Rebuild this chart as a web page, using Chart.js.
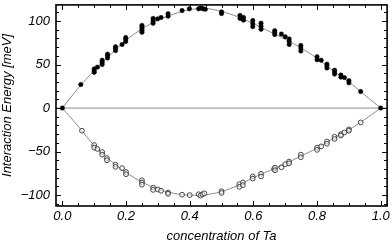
<!DOCTYPE html>
<html>
<head>
<meta charset="utf-8">
<script src="https://cdn.jsdelivr.net/npm/chart.js@4/dist/chart.umd.min.js"></script>
<style>
 html, body { margin: 0; padding: 0; background: #fff; }
 #wrap { width: 392px; height: 243px; }
</style>
</head>
<body>
<div id="wrap"><canvas id="c"></canvas></div>
<script>
// filled points (upper branch)
const upperX = [0, 0.058, 0.1, 0.1, 0.1, 0.11, 0.125, 0.125, 0.125, 0.142, 0.142, 0.142, 0.167, 0.167, 0.167, 0.1875, 0.199, 0.199, 0.199,
 0.25, 0.25, 0.25, 0.25, 0.25, 0.285, 0.285, 0.285, 0.299, 0.31, 0.332, 0.332, 0.376, 0.399, 0.428, 0.435, 0.442, 0.449,
 0.5, 0.5, 0.558, 0.558, 0.569, 0.569, 0.598, 0.598, 0.598, 0.624, 0.624, 0.624, 0.667, 0.667, 0.667, 0.688, 0.70,
 0.7125, 0.7125, 0.7125, 0.749, 0.749, 0.749, 0.8, 0.8, 0.813, 0.831, 0.831, 0.831, 0.855, 0.855, 0.855, 0.875, 0.875,
 0.886, 0.9, 0.9, 0.937, 1];
const upperY = [0, 27, 41, 43, 45, 47, 50, 52.5, 55, 57.5, 60, 62, 66, 68.5, 70.5, 73, 76.5, 79, 81,
 87, 89, 91, 93, 95, 97.5, 100, 103, 102.5, 104, 105.5, 108.5, 112, 114, 114, 115, 114, 113.5,
 108.5, 110.5, 103, 106.5, 101, 104, 93.5, 97, 100.5, 90.5, 94, 97.5, 84.5, 87, 89, 85, 82,
 73, 76.5, 79.5, 65.5, 69, 72, 55.5, 59, 55, 46, 48.5, 50.5, 39, 41.5, 43.5, 35.5, 38,
 35, 29, 31.5, 19, 0];

// open circles (lower branch)
const lowerX = [0.0615, 0.1, 0.1, 0.11, 0.125, 0.125, 0.14, 0.14, 0.167, 0.167, 0.1875, 0.2, 0.2, 0.25, 0.25, 0.25,
 0.285, 0.285, 0.3, 0.31, 0.332, 0.332, 0.376, 0.4, 0.428, 0.434, 0.44, 0.446, 0.5, 0.5, 0.556, 0.556, 0.567, 0.567,
 0.598, 0.598, 0.624, 0.624, 0.665, 0.668, 0.668, 0.688, 0.70, 0.712, 0.712, 0.749, 0.749, 0.8, 0.8, 0.813,
 0.831, 0.831, 0.855, 0.855, 0.875, 0.875, 0.886, 0.9, 0.9, 0.937];
const lowerY = [-26, -42.5, -45.5, -47, -50.5, -53.5, -57.5, -60, -65, -67.5, -69, -73.5, -76, -83, -85.5, -88,
 -91.5, -94, -93.5, -95, -97, -98.5, -99.5, -100, -99, -100.5, -99, -98, -95.5, -97.5, -87.5, -90.5, -85.5, -88.5,
 -78.5, -81, -75.5, -78.5, -70, -68.5, -71.5, -68, -64.5, -61.5, -63.5, -53.5, -56.5, -45.5, -48, -44,
 -38.5, -41, -33, -35.5, -30, -31.5, -28, -24.5, -26, -16.5];

// fitted curves
const fitX = [0, 0.05, 0.1, 0.15, 0.2, 0.25, 0.3, 0.35, 0.4, 0.45, 0.5, 0.55, 0.6, 0.65, 0.7, 0.75, 0.8, 0.85, 0.9, 0.95, 1];
const fitUpper = [0, 23, 43, 61, 78, 91, 101, 108, 113, 114.5, 111, 105, 97, 88, 79, 69, 57, 43, 30, 15, 0];
const fitLower = [0, -21, -43, -60, -74, -85, -93, -98, -100, -99.5, -96, -89, -80, -72, -64, -55, -46, -35, -25, -13, 0];

const xMin = -0.02, xMax = 1.02, yMin = -112.5, yMax = 118.5;
const zeroX = [xMin, xMax];
const zeroY = [0, 0];

const xTickLabels = ['0.0', '0.2', '0.4', '0.6', '0.8', '1.0'];
const yTickLabels = ['\u2212100', '\u221250', '0', '50', '100'];

const pts = (xs, ys) => xs.map((x, i) => ({ x: x, y: ys[i] }));

const font = { family: "'Liberation Sans', Arial, sans-serif", size: 13, style: 'italic' };

// frame plus inward ticks on all four sides
const framePlugin = {
 id: 'frame',
 afterDatasetsDraw(chart) {
  const { ctx, chartArea: a, scales } = chart;
  ctx.save();
  ctx.strokeStyle = '#000';
  ctx.lineWidth = 1;
  ctx.beginPath();
  scales.x.ticks.forEach(t => {
   const px = Math.round(scales.x.getPixelForValue(t.value)) + 0.5;
   const major = Math.abs(t.value / 0.2 - Math.round(t.value / 0.2)) < 1e-6;
   const len = major ? 5 : 3;
   ctx.moveTo(px, a.bottom); ctx.lineTo(px, a.bottom - len);
   ctx.moveTo(px, a.top); ctx.lineTo(px, a.top + len);
  });
  scales.y.ticks.forEach(t => {
   const py = Math.round(scales.y.getPixelForValue(t.value)) + 0.5;
   const major = t.value % 50 === 0;
   const len = major ? 5 : 3;
   ctx.moveTo(a.left, py); ctx.lineTo(a.left + len, py);
   ctx.moveTo(a.right, py); ctx.lineTo(a.right - len, py);
  });
  ctx.stroke();
  ctx.lineWidth = 1.6;
  ctx.strokeRect(a.left, a.top, a.right - a.left, a.bottom - a.top);
  ctx.restore();
 }
};

new Chart(document.getElementById('c'), {
 type: 'scatter',
 data: {
  datasets: [
   {
    label: 'upper',
    data: pts(upperX, upperY),
    pointRadius: 2.2,
    pointBackgroundColor: '#000',
    pointBorderColor: '#000',
    pointBorderWidth: 0.5
   },
   {
    label: 'lower',
    data: pts(lowerX, lowerY),
    pointRadius: 2.4,
    pointBackgroundColor: 'rgba(255,255,255,0.6)',
    pointBorderColor: '#333',
    pointBorderWidth: 0.9
   },
   {
    label: 'fit upper',
    data: pts(fitX, fitUpper),
    showLine: true,
    pointRadius: 0,
    borderColor: '#8a8a8a',
    borderWidth: 1,
    tension: 0.3
   },
   {
    label: 'fit lower',
    data: pts(fitX, fitLower),
    showLine: true,
    pointRadius: 0,
    borderColor: '#8a8a8a',
    borderWidth: 1,
    tension: 0.3
   },
   {
    label: 'zero',
    data: pts(zeroX, zeroY),
    showLine: true,
    pointRadius: 0,
    borderColor: '#8a8a8a',
    borderWidth: 1
   }
  ]
 },
 options: {
  responsive: true,
  maintainAspectRatio: false,
  animation: false,
  layout: { padding: { top: 1, right: 4, left: 0, bottom: 0 } },
  plugins: { legend: { display: false }, tooltip: { enabled: false } },
  scales: {
   x: {
    type: 'linear',
    min: xMin,
    max: xMax,
    afterFit: s => { s.height = 37; s.paddingLeft = 0; s.paddingRight = 0; },
    grid: { display: false, drawTicks: false },
    border: { display: false },
    ticks: {
     stepSize: 0.05,
     includeBounds: false,
     autoSkip: false,
     maxRotation: 0,
     padding: 3,
     color: '#000',
     font: font,
     callback: v => {
      const k = Math.round(v / 0.2);
      return Math.abs(v / 0.2 - k) < 1e-6 ? xTickLabels[k] : '';
     }
    },
    title: { display: true, text: 'concentration of Ta', color: '#000', font: font, padding: { top: 0, bottom: -1 } }
   },
   y: {
    type: 'linear',
    min: yMin,
    max: yMax,
    afterFit: s => { s.width = 56; s.paddingTop = 0; s.paddingBottom = 0; },
    grid: { display: false, drawTicks: false },
    border: { display: false },
    ticks: {
     stepSize: 10,
     includeBounds: false,
     autoSkip: false,
     padding: 6,
     color: '#000',
     font: font,
     callback: v => (v % 50 === 0 ? yTickLabels[v / 50 + 2] : '')
    },
    title: { display: true, text: 'Interaction Energy [meV]', color: '#000', font: font, padding: 0 }
   }
  }
 },
 plugins: [framePlugin]
});
</script>
</body>
</html>
